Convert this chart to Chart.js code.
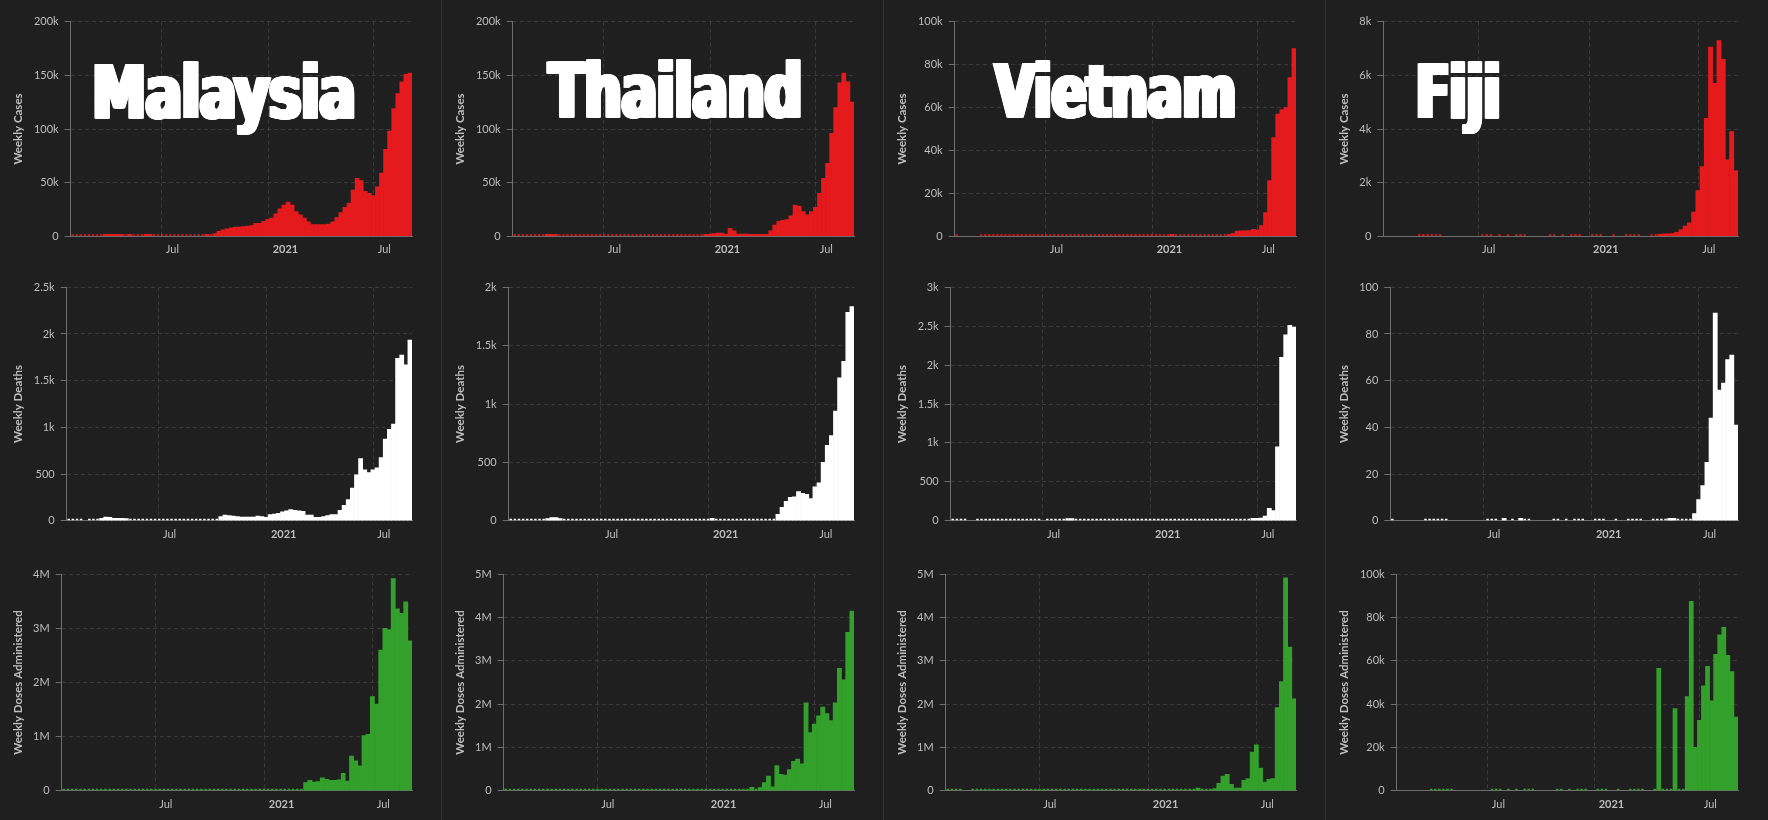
<!DOCTYPE html>
<html><head><meta charset="utf-8">
<script src="https://cdn.jsdelivr.net/npm/chart.js@4.4.1/dist/chart.umd.min.js"></script>
<style>
html,body{margin:0;padding:0;background:#1f1f1f;width:1768px;height:820px;overflow:hidden;}
canvas{position:absolute;}
.sep{position:absolute;top:0;width:1px;height:820px;background:#333;}
</style></head><body>
<div class="sep" style="left:441px"></div>
<div class="sep" style="left:883px"></div>
<div class="sep" style="left:1325px"></div>
<script>
// ---------- DATA ----------
const firstWeek = '2020-01-26';          // start of first weekly bar
const xTickDates = ['2020-07-01', '2021-01-01', '2021-07-01'];
const xTickLabels = ['Jul', '2021', 'Jul'];
const countries = ['Malaysia', 'Thailand', 'Vietnam', 'Fiji'];
const n = null;

const malaysiaCases = [
  0,0,0,0,0,0,0,0,1500,1800,1600,1200,
  1000,0,1200,0,0,0,1300,1200,0,0,0,0,
  0,0,0,0,0,0,0,0,0,1000,0,2500,
  4700,6000,7000,8000,8500,8500,9000,9500,10000,12000,12000,14000,
  15500,17000,21000,25500,29000,32000,29000,23000,20000,17000,13500,11000,
  11000,11000,11000,11500,13500,17500,22000,27000,31000,43000,54000,52000,
  42000,40000,38000,46000,59000,81000,98000,119000,133000,144000,151000,152000];
const thailandCases = [
  0,0,0,0,0,0,0,0,1400,1500,1000,0,
  0,0,0,0,0,0,0,0,0,0,0,0,
  0,0,0,0,0,0,0,0,0,0,0,0,
  0,0,0,0,0,0,0,0,0,0,0,1200,
  1500,2600,3000,3000,1800,7500,5000,2000,2000,2000,400,1800,
  1800,1800,300,5000,10500,14000,15000,15500,19000,29000,28000,23000,
  20000,23000,27000,40000,54000,68000,96000,120000,143000,152000,144000,125000];
const vietnamCases = [
  0,n,n,n,n,n,0,0,0,0,0,0,
  0,0,0,0,0,0,0,0,0,0,0,0,
  0,0,0,0,0,0,0,0,0,0,0,0,
  0,0,0,0,0,0,0,0,0,0,0,0,
  0,0,0,0,0,800,0,0,0,0,0,0,
  0,0,0,0,0,0,0,800,1300,2400,2600,2600,
  2700,3300,3000,5000,11000,26000,46000,57000,59000,60000,74000,87500];
const fijiCases = [
  n,n,n,n,n,n,n,n,0,0,0,0,
  0,0,n,n,n,n,n,n,n,n,n,0,
  0,0,n,0,n,0,n,0,0,0,n,n,
  n,n,n,0,0,n,0,n,0,0,0,n,
  n,0,0,0,n,n,0,n,n,0,0,0,
  0,n,n,0,0,70,90,90,100,150,250,380,
  500,900,1700,2600,4400,7050,5700,7300,6600,2850,3900,2450];

const malaysiaDeaths = [
  0,0,0,0,n,0,0,0,25,40,35,25,
  25,25,15,0,0,0,0,0,0,0,0,0,
  0,0,0,0,0,0,0,0,0,0,0,0,
  0,45,60,55,50,45,40,40,40,40,50,45,
  35,65,70,80,95,105,120,110,105,100,60,60,
  35,35,45,55,65,65,110,165,225,350,490,665,
  545,515,545,565,675,875,980,1035,1740,1775,1670,1935];
const thailandDeaths = [
  0,0,0,0,0,0,0,0,0,17,26,26,
  17,0,0,0,0,0,0,0,0,0,0,0,
  0,0,0,0,0,0,0,0,0,0,0,0,
  0,0,0,0,0,0,0,0,0,0,0,0,
  0,20,0,0,0,0,0,0,0,0,0,0,
  0,0,0,0,0,55,115,165,200,205,250,235,
  225,190,290,325,500,645,730,940,1225,1365,1785,1835];
const vietnamDeaths = [
  0,0,0,0,n,n,0,0,0,0,0,0,
  0,0,0,0,0,0,0,0,0,0,n,0,
  0,0,0,0,15,15,0,0,0,0,0,0,
  0,0,0,0,0,0,0,0,0,0,0,0,
  0,0,0,0,0,0,0,0,0,0,0,0,
  0,0,0,0,0,0,0,0,0,0,0,0,
  0,30,30,35,60,160,130,950,2100,2390,2510,2490];
const fijiDeaths = [
  0,n,n,n,n,n,n,n,0,0,0,0,
  0,0,n,n,n,n,n,n,n,n,n,0,
  0,0,n,1,n,0,n,1,0,0,n,n,
  n,n,n,0,0,n,0,n,0,0,0,n,
  n,0,0,0,n,n,0,n,n,0,0,0,
  0,n,n,0,0,0,0,1,1,0,0,0,
  0,3,9,15,25,44,89,56,59,69,71,41];

const malaysiaDoses = [
  0,0,0,0,0,0,0,0,0,0,0,0,
  0,0,0,0,0,0,0,0,0,0,0,0,
  0,0,0,0,0,0,0,0,0,0,0,0,
  0,0,0,0,0,0,0,0,0,0,0,0,
  0,0,0,0,0,0,0,0,0,0,150000,190000,
  160000,170000,240000,210000,190000,190000,200000,320000,180000,640000,550000,460000,
  1020000,1040000,1740000,1600000,2600000,3000000,2980000,3920000,3360000,3280000,3490000,2770000];
const thailandDoses = [
  0,0,0,0,0,0,0,0,0,0,0,0,
  0,0,0,0,0,0,0,0,0,0,0,0,
  0,0,0,0,0,0,0,0,0,0,0,0,
  0,0,0,0,0,0,0,0,0,0,0,0,
  0,0,0,0,0,0,0,0,0,0,0,80000,
  0,70000,190000,340000,90000,580000,380000,360000,490000,680000,730000,620000,
  2030000,1340000,1540000,1730000,1930000,1780000,1620000,2030000,2830000,2560000,3660000,4150000];
const vietnamDoses = [
  0,0,0,0,n,n,0,0,0,0,0,0,
  0,0,0,0,0,0,0,0,0,0,0,0,
  0,0,0,0,0,0,0,0,0,0,0,0,
  0,0,0,0,0,0,0,0,0,0,0,0,
  0,0,0,0,0,0,0,0,0,0,0,0,
  60000,0,0,0,50000,170000,340000,380000,150000,60000,60000,240000,
  280000,890000,1060000,520000,200000,260000,280000,1920000,2520000,4920000,3320000,2120000];
const fijiDoses = [
  n,n,n,n,n,n,n,n,0,0,0,0,
  0,0,n,n,n,n,n,n,n,n,n,0,
  0,0,n,0,n,0,n,0,0,0,n,n,
  n,n,n,0,0,n,0,n,0,0,0,n,
  n,0,0,0,n,n,0,n,n,0,0,0,
  0,n,n,0,56500,0,0,0,38000,0,0,43500,
  87500,20000,32500,48500,57500,41500,63000,72000,75500,62500,55000,34000];

const rowTitles = ['Weekly Cases', 'Weekly Deaths', 'Weekly Doses Administered'];
const rowColors = ['#e41a1c', '#ffffff', '#33a02c'];
const seriesGrid = [
  [malaysiaCases, thailandCases, vietnamCases, fijiCases],
  [malaysiaDeaths, thailandDeaths, vietnamDeaths, fijiDeaths],
  [malaysiaDoses, thailandDoses, vietnamDoses, fijiDoses]];
const yMaxGrid = [[200000, 200000, 100000, 8000], [2500, 2000, 3000, 100], [4000000, 5000000, 5000000, 100000]];
const yStepGrid = [[50000, 50000, 20000, 2000], [500, 500, 500, 20], [1000000, 1000000, 1000000, 20000]];

// ---------- LAYOUT ----------
const COL_W = 442;
const rowLayout = [
  {top: 0,   height: 275, padTop: 21.7, padBottom: 12.7},
  {top: 270, height: 290, padTop: 17.3, padBottom: 13.3},
  {top: 545, height: 275, padTop: 29.3, padBottom: 3.3}];
const axisX = [[70.7, 70.7, 70.7, 57.3], [66.7, 66.7, 66.7, 64.3], [61.7, 61.7, 61.7, 70.7]];
const titleBoxes = [
  {left: 94.3, right: 355, top: 61.7, bottom: 118.3},
  {left: 104, right: 359.3, top: 60, bottom: 117.3},
  {left: 108.3, right: 351.7, top: 61, bottom: 117.3},
  {left: 90.7, right: 173.3, top: 62.3, bottom: 118.3}];

const FONT = 'Lato, "Open Sans", sans-serif';
const TICK_COLOR = '#bdbdbd';
const GRID_COLOR = '#3a3a3a';
const AXIS_COLOR = '#6e6e6e';

const DAY = 86400000;
const w0 = Date.parse(firstWeek + 'T00:00:00Z');
const xTickVals = xTickDates.map(d => (Date.parse(d + 'T00:00:00Z') - w0) / DAY / 7 - 0.5);
const nWeeks = malaysiaCases.length;

function fmt(v) {
  if (v >= 1e6) return (v / 1e6) + 'M';
  if (v >= 1000) return (v / 1000) + 'k';
  return String(v);
}

// Heavy condensed headline: narrow bold font, thickened horizontally only
function drawBigTitle(ctx, text, box) {
  const fam = '"Liberation Sans Narrow", "DejaVu Sans Condensed", "Liberation Sans", sans-serif';
  const smear = 5;   // horizontal thickening in px
  const lw = 1;
  ctx.save();
  ctx.font = 'bold 100px ' + fam;
  let m = ctx.measureText(text);
  const baseline = box.bottom - lw / 2;
  const asc = baseline - box.top - lw / 2;
  const size = 100 * asc / m.actualBoundingBoxAscent;
  ctx.font = 'bold ' + size + 'px ' + fam;
  m = ctx.measureText(text);
  const inkW = m.actualBoundingBoxLeft + m.actualBoundingBoxRight;
  const sx = (box.right - box.left - smear - lw) / inkW;
  ctx.fillStyle = '#ffffff';
  ctx.strokeStyle = '#ffffff';
  ctx.lineWidth = lw;
  for (let dx = 0; dx <= smear; dx += 0.5) {
    ctx.save();
    ctx.translate(box.left + lw / 2 + dx + sx * m.actualBoundingBoxLeft, baseline);
    ctx.scale(sx, 1);
    ctx.fillText(text, 0, 0);
    ctx.strokeText(text, 0, 0);
    ctx.restore();
  }
  ctx.restore();
}

function makePanel(r, c) {
  const lay = rowLayout[r];
  const cv = document.createElement('canvas');
  cv.width = COL_W; cv.height = lay.height;
  cv.style.left = (c * COL_W) + 'px';
  cv.style.top = lay.top + 'px';
  document.body.appendChild(cv);
  const vals = seriesGrid[r][c];
  const color = rowColors[r];
  const main = vals.map((v, i) => ({x: i, y: (v === null || v === 0) ? null : v}));
  const stubs = vals.map((v, i) => ({x: i, y: v === 0 ? 0 : null}));
  const plugins = [];
  if (r === 0) {
    plugins.push({id: 'bigTitle', afterDraw(chart) { drawBigTitle(chart.ctx, countries[c], titleBoxes[c]); }});
  }
  const yW = axisX[r][c] - 7;
  new Chart(cv, {
    type: 'bar',
    data: {datasets: [
      {data: main, backgroundColor: color, barPercentage: 1, categoryPercentage: 1, minBarLength: 2, grouped: false, borderWidth: 0},
      {data: stubs, backgroundColor: color, barPercentage: 0.6, categoryPercentage: 1, minBarLength: 2, grouped: false, borderWidth: 0}
    ]},
    plugins,
    options: {
      responsive: false, animation: false, devicePixelRatio: 1,
      events: [],
      plugins: {legend: {display: false}, tooltip: {enabled: false}},
      layout: {padding: {left: 7, right: 30, top: lay.padTop, bottom: lay.padBottom}},
      scales: {
        x: {
          type: 'linear', min: -0.5, max: nWeeks - 0.5, offset: false,
          afterBuildTicks: s => { s.ticks = xTickVals.map(v => ({value: v})); },
          afterFit: s => { s.height = 26; },
          grid: {color: GRID_COLOR, drawTicks: false, offset: false},
          border: {display: true, color: AXIS_COLOR, dash: [4, 3]},
          ticks: {
            autoSkip: false, maxRotation: 0, minRotation: 0, align: 'start', labelOffset: 4, padding: 7,
            color: TICK_COLOR,
            font: ctx => ({family: FONT, size: 11, weight: (ctx.tick && ctx.tick.label === '2021') ? 'bold' : 'normal'}),
            callback: (v, i) => xTickLabels[i]
          }
        },
        y: {
          min: 0, max: yMaxGrid[r][c],
          afterFit: s => { s.width = yW; },
          grid: {color: GRID_COLOR, tickLength: 6, tickColor: AXIS_COLOR, tickBorderDash: []},
          border: {display: true, color: AXIS_COLOR, dash: [4, 3]},
          ticks: {stepSize: yStepGrid[r][c], callback: v => fmt(v), color: TICK_COLOR, padding: 6, font: {family: FONT, size: 11}},
          title: {display: true, text: rowTitles[r], color: TICK_COLOR, font: {family: FONT, size: 11.5, weight: 'bold'}, padding: {top: 4, bottom: 4}}
        }
      }
    }
  });
}

for (let r = 0; r < 3; r++) for (let c = 0; c < 4; c++) makePanel(r, c);
</script>
</body></html>
